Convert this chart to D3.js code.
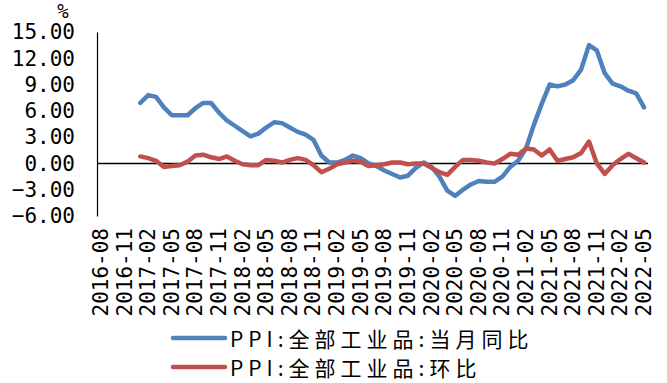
<!DOCTYPE html>
<html>
<head>
<meta charset="utf-8">
<script src="https://cdn.jsdelivr.net/npm/d3@7"></script>
<style>
  html, body { margin: 0; padding: 0; background: #fff; }
  svg { display: block; }
</style>
</head>
<body>
<svg id="chart" width="667" height="383"></svg>
<script>
// Monthly categories shown on the axis: 2016-08 .. 2022-05
const firstMonth = new Date(2016, 7, 1);
const lastMonth = new Date(2022, 4, 1);
const fmt = d3.timeFormat("%Y-%m");
const months = d3.timeMonth.range(firstMonth, d3.timeMonth.offset(lastMonth, 1)).map(fmt);

// Every third month is labelled
const tickLabels = [
  "2016-08","2016-11","2017-02","2017-05","2017-08","2017-11",
  "2018-02","2018-05","2018-08","2018-11","2019-02","2019-05",
  "2019-08","2019-11","2020-02","2020-05","2020-08","2020-11",
  "2021-02","2021-05","2021-08","2021-11","2022-02","2022-05"
];

const yTicks = [-6, -3, 0, 3, 6, 9, 12, 15];

// Both series start in 2017-01
const seriesStart = "2017-01";

// PPI, all industrial products, year on year (%)
const yoy = [
  6.9, 7.8, 7.6, 6.4, 5.5, 5.5, 5.5, 6.3, 6.9, 6.9, 5.8, 4.9,
  4.3, 3.7, 3.1, 3.4, 4.1, 4.7, 4.6, 4.1, 3.6, 3.3, 2.7, 0.9,
  0.1, 0.1, 0.4, 0.9, 0.6, 0.0, -0.3, -0.8, -1.2, -1.6, -1.4, -0.5,
  0.1, -0.4, -1.5, -3.1, -3.7, -3.0, -2.4, -2.0, -2.1, -2.1, -1.5, -0.4,
  0.3, 1.7, 4.4, 6.8, 9.0, 8.8, 9.0, 9.5, 10.7, 13.5, 12.9, 10.3,
  9.1, 8.8, 8.3, 8.0, 6.4
];

// PPI, all industrial products, month on month (%)
const mom = [
  0.8, 0.6, 0.3, -0.4, -0.3, -0.2, 0.2, 0.9, 1.0, 0.7, 0.5, 0.8,
  0.3, -0.1, -0.2, -0.2, 0.4, 0.3, 0.1, 0.4, 0.6, 0.4, -0.2, -1.0,
  -0.6, -0.1, 0.1, 0.3, 0.2, -0.3, -0.2, -0.1, 0.1, 0.1, -0.1, 0.0,
  0.0, -0.5, -1.0, -1.3, -0.4, 0.4, 0.4, 0.3, 0.1, 0.0, 0.5, 1.1,
  1.0, 1.7, 1.6, 0.9, 1.6, 0.3, 0.5, 0.7, 1.2, 2.5, 0.0, -1.2,
  -0.2, 0.5, 1.1, 0.6, 0.1
];

const seriesNames = ["PPI:全部工业品:当月同比", "PPI:全部工业品:环比"];
const seriesColors = ["#4F81BD", "#C0504D"];

const svg = d3.select("#chart");

const plot = { left: 97, right: 648, top: 32, bottom: 216 };

const x = d3.scaleBand().domain(months).range([plot.left, plot.right]).padding(0);
const cx = m => x(m) + x.bandwidth() / 2;
const y = d3.scaleLinear().domain([-6, 15]).range([plot.bottom, plot.top]);

const numFont = "'DejaVu Sans Mono', monospace";

// y axis line (no tick marks) with labels on the left
const yAxis = d3.axisLeft(y).tickValues(yTicks).tickSize(0).tickPadding(22)
  .tickFormat(d3.format(".2f"));
const gy = svg.append("g").attr("transform", `translate(${plot.left},0)`).call(yAxis);
gy.select(".domain").attr("stroke", "#000").attr("stroke-width", 1.2);
gy.selectAll("text")
  .attr("font-family", numFont).attr("font-size", 21).attr("fill", "#000")
  .text(d => d3.format(".2f")(d).replace("-", "\u2212"));

// unit label
svg.append("text").attr("x", 63).attr("y", 11)
  .attr("text-anchor", "middle").attr("dominant-baseline", "central")
  .attr("font-family", numFont).attr("font-size", 19).attr("fill", "#000")
  .text("%");

// category axis crossing at zero
svg.append("line")
  .attr("x1", plot.left).attr("x2", plot.right)
  .attr("y1", y(0)).attr("y2", y(0))
  .attr("stroke", "#000").attr("stroke-width", 1.5);

// rotated month labels beneath the plot
svg.append("g").selectAll("text").data(tickLabels).join("text")
  .attr("transform", d => `translate(${cx(d)},228) rotate(-90)`)
  .attr("text-anchor", "end").attr("dominant-baseline", "central")
  .attr("font-family", numFont).attr("font-size", 21).attr("fill", "#000")
  .text(d => d);

// series lines
const startIdx = months.indexOf(seriesStart);
const line = d3.line()
  .x((d, i) => cx(months[startIdx + i]))
  .y(d => y(d));

[yoy, mom].forEach((vals, k) => {
  svg.append("path")
    .datum(vals)
    .attr("d", line)
    .attr("fill", "none")
    .attr("stroke", seriesColors[k])
    .attr("stroke-width", 4.5)
    .attr("stroke-linejoin", "round")
    .attr("stroke-linecap", "round");
});

// legend
const legendRows = [338, 367];
const legend = svg.append("g").selectAll("g").data(seriesNames).join("g")
  .attr("transform", (d, i) => `translate(0,${legendRows[i]})`);
legend.append("line")
  .attr("x1", 173).attr("x2", 225).attr("y1", 0).attr("y2", 0)
  .attr("stroke", (d, i) => seriesColors[i]).attr("stroke-width", 4.5)
  .attr("stroke-linecap", "round");
legend.append("text")
  .attr("x", 230).attr("y", 0).attr("dominant-baseline", "central")
  .attr("font-family", "'Noto Sans CJK SC', sans-serif").attr("font-size", 21)
  .attr("letter-spacing", 5).attr("fill", "#000")
  .text(d => d);
</script>
</body>
</html>
